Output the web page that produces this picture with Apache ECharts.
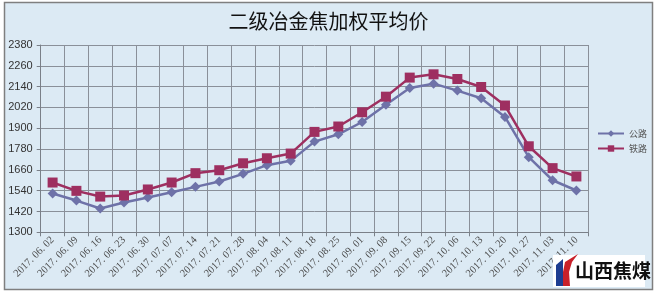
<!DOCTYPE html>
<html><head><meta charset="utf-8">
<script src="https://cdn.jsdelivr.net/npm/echarts@6/dist/echarts.min.js"></script>
<style>html,body{margin:0;padding:0;background:#fff}#c{width:657px;height:296px}</style>
</head><body><div id="c"></div>
<script>
var categories = ['2017. 06. 02','2017. 06. 09','2017. 06. 16','2017. 06. 23','2017. 06. 30','2017. 07. 07','2017. 07. 14','2017. 07. 21','2017. 07. 28','2017. 08. 04','2017. 08. 11','2017. 08. 18','2017. 08. 25','2017. 09. 01','2017. 09. 08','2017. 09. 15','2017. 09. 22','2017. 10. 06','2017. 10. 13','2017. 10. 20','2017. 10. 27','2017. 11. 03','2017. 11. 10'];
var road = [1524,1483,1437,1472,1501,1531,1562,1593,1637,1687,1712,1823,1865,1936,2036,2132,2157,2117,2073,1965,1733,1600,1541];
var rail = [1587,1539,1506,1512,1547,1587,1641,1658,1698,1727,1754,1879,1910,1992,2082,2192,2211,2184,2138,2031,1796,1670,1622];
var seriesNames = ['公路','铁路'];
var yMin = 1300, yMax = 2380, yStep = 120;

var chart = echarts.init(document.getElementById('c'));
chart.setOption({
  backgroundColor: '#fff',
  animation: false,
  graphic: [
    {type:'rect', z:-10, shape:{x:4.5,y:2.5,width:648,height:287}, style:{fill:'#DCEAF4', stroke:'#7f7f7f', lineWidth:1.5}},
    {type:'rect', z:10, shape:{x:553,y:255,width:92,height:32}, style:{fill:'#ffffff'}},
    {type:'polygon', z:11, shape:{points:[[556,265],[563,259],[563,286],[556,286]]}, style:{fill:'#1d3d91'}},
    {type:'polygon', z:11, shape:{points:[[565,262],[578,254],[572,262],[569,272],[570,286],[563,286],[563,272]]}, style:{fill:'#c8202a'}},
    {type:'text', z:11, left:575, top:261, style:{text:'山西焦煤', fill:'#111', font:'bold 19px "Noto Sans CJK SC"'}}
  ],
  title: {
    text: '二级冶金焦加权平均价',
    left: 'center', top: 6,
    textStyle: {fontFamily:'"Noto Sans CJK SC"', fontSize:20, fontWeight:'normal', color:'#111'}
  },
  legend: {
    orient:'vertical', left:592, top:124, itemGap:6, itemWidth:26, itemHeight:8,
    textStyle:{fontSize:9, color:'#555', fontFamily:'"Noto Sans CJK SC"'},
    data: seriesNames
  },
  grid: {left:40.7, right:68.7, top:45, bottom:63.7},
  xAxis: {
    type:'category', data:categories, boundaryGap:true,
    axisLine:{lineStyle:{color:'#7a8088'}},
    axisTick:{show:true, length:4, alignWithLabel:false, lineStyle:{color:'#7a8088'}},
    splitLine:{show:true, lineStyle:{color:'#8a9099', width:1}},
    axisLabel:{rotate:45, interval:0, fontSize:10.5, color:'#4a4a4a', margin:6, fontFamily:'"Liberation Serif"'}
  },
  yAxis: {
    type:'value', min:yMin, max:yMax, interval:yStep,
    axisLine:{show:true, lineStyle:{color:'#7a8088'}},
    axisTick:{show:true, length:4, lineStyle:{color:'#7a8088'}},
    splitLine:{lineStyle:{color:'#8a9099', width:1}},
    axisLabel:{fontSize:11, color:'#333', margin:8, fontFamily:'"Liberation Sans Narrow","Liberation Sans"',
      formatter:function(v){return String(v);}}
  },
  series: [
    {name:seriesNames[0], type:'line', data:road, symbol:'diamond', symbolSize:10,
     lineStyle:{color:'#6E72A8', width:2.5}, itemStyle:{color:'#6E72A8'}},
    {name:seriesNames[1], type:'line', data:rail, symbol:'rect', symbolSize:10,
     lineStyle:{color:'#9E2F60', width:2.5}, itemStyle:{color:'#9E2F60'}}
  ]
});
</script></body></html>
